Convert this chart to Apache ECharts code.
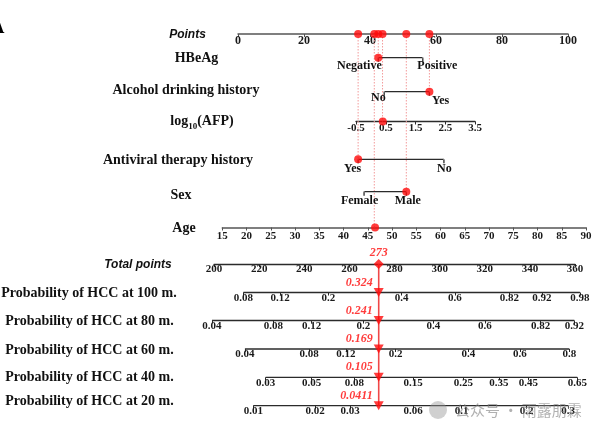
<!DOCTYPE html>
<html><head><meta charset="utf-8">
<script src="https://cdn.jsdelivr.net/npm/echarts@6/dist/echarts.min.js"></script>
<style>html,body{margin:0;padding:0;background:#fff}#c{width:607px;height:433px}</style>
</head><body><div id="c"></div>
<script>
// ================= DATA =================
const pointsTicks = [0, 20, 40, 60, 80, 100];
const hbeagLevels = ['Negative', 'Positive'];
const hbeagPoints = [42.5, 56];
const alcoholLevels = ['No', 'Yes'];
const alcoholPoints = [44.3, 58];
const afpTicks = [-0.5, 0.5, 1.5, 2.5, 3.5];
const antiviralLevels = ['Yes', 'No'];
const antiviralPoints = [36.4, 62.4];
const sexLevels = ['Female', 'Male'];
const sexPoints = [38.2, 51];
const ageTicks = [15, 20, 25, 30, 35, 40, 45, 50, 55, 60, 65, 70, 75, 80, 85, 90];
const totalTicks = [200, 220, 240, 260, 280, 300, 320, 340, 360];

// the patient shown in red
const patientHBeAg = 'Negative';
const patientAlcohol = 'Yes';
const patientAFP = 0.4;
const patientAFPPoints = 43.8;
const patientAntiviral = 'Yes';
const patientSex = 'Male';
const patientAge = 46.5;
const patientAgePoints = 41.3;
const totalScore = 273;

// probability scales: tick label and the total points it sits at
const prob100Labels = ['0.08', '0.12', '0.2', '0.4', '0.6', '0.82', '0.92', '0.98'];
const prob100Totals = [213.0, 229.3, 250.7, 283.2, 306.8, 330.9, 345.3, 362.2];
const prob80Labels = ['0.04', '0.08', '0.12', '0.2', '0.4', '0.6', '0.82', '0.92'];
const prob80Totals = [199.1, 226.3, 243.3, 266.2, 297.2, 320.1, 344.8, 359.7];
const prob60Labels = ['0.04', '0.08', '0.12', '0.2', '0.4', '0.6', '0.8'];
const prob60Totals = [213.7, 242.2, 258.5, 280.5, 312.7, 335.6, 357.5];
const prob40Labels = ['0.03', '0.05', '0.08', '0.15', '0.25', '0.35', '0.45', '0.65'];
const prob40Totals = [222.9, 243.3, 262.2, 288.3, 310.5, 326.3, 339.3, 361.0];
const prob20Labels = ['0.01', '0.02', '0.03', '0.06', '0.1', '0.2', '0.3'];
const prob20Totals = [217.4, 244.8, 260.3, 288.3, 309.8, 338.6, 357.0];
const predictedProbs = ['0.324', '0.241', '0.169', '0.105', '0.0411'];

// ================= LAYOUT / STYLE =================
const L = {
  ptsLeft: 238, ptsWidth: 330,
  afpLeft: 356, afpWidth: 119,
  ageLeft: 222.3, ageWidth: 363.7,
  totLeft: 214, totWidth: 361,
  rowY: { points: 34, hbeag: 57.7, alcohol: 91.7, afp: 121.5, antiviral: 159.3, sex: 191.7, age: 227.5,
          total: 264, p100: 292.5, p80: 320.5, p60: 349, p40: 377.3, p20: 405.7 },
  bracketTick: 4,
  levelLabels: {
    hbeag:     { align: ['right', 'left'], dx: [4, -5], dy: [8.5, 8.5] },
    alcohol:   { align: ['right', 'left'], dx: [2, 3], dy: [7, 9.5] },
    antiviral: { align: ['center', 'center'], dx: [-5, 1], dy: [10, 10] },
    sex:       { align: ['center', 'center'], dx: [-4, 2], dy: [10, 10] }
  }
};
const SERIF = '"Liberation Serif", "Times New Roman", serif';
const SANS = '"Liberation Sans", Arial, sans-serif';
const RED = '#ff0a0a';
const AXIS = '#2b2b2b';
const lab = (size, margin) => ({ show: true, fontFamily: SERIF, fontWeight: 'bold', fontSize: size, color: '#1a1a1a', margin });

const grids = [], xAxes = [], yAxes = [], series = [];
function addGrid(g, x, y) {
  grids.push(Object.assign({ outerBoundsMode: 'none', containLabel: false, show: false }, g));
  const i = grids.length - 1;
  xAxes.push(Object.assign({ gridIndex: i, type: 'value', splitLine: { show: false } }, x));
  yAxes.push(Object.assign({ gridIndex: i, type: 'value', show: false, splitLine: { show: false } }, y));
  return i;
}
function axisRowGrid(left, width, y) {
  return { left, width, top: y - 10, height: 10 };
}

// ---- top overlay grid: Points axis (on top) and categorical rows in Points units ----
const R = L.rowY;
const g0 = addGrid(
  { left: L.ptsLeft, width: L.ptsWidth, top: R.points, height: R.age - R.points },
  { position: 'top', min: pointsTicks[0], max: pointsTicks[pointsTicks.length - 1], interval: pointsTicks[1] - pointsTicks[0],
    axisLine: { show: true, lineStyle: { color: '#555', width: 1.5 } },
    axisTick: { show: true, inside: true, length: 3, lineStyle: { color: '#555' } },
    axisLabel: Object.assign(lab(12, 1), { inside: true }) },
  { min: R.points, max: R.age, inverse: true }
);

const selected = []; // {pts, y}
function catRow(key, levels, pts, chosen) {
  const y = R[key], lay = L.levelLabels[key];
  series.push({ type: 'line', xAxisIndex: g0, yAxisIndex: g0, symbol: 'none', clip: false, silent: true, z: 2,
    lineStyle: { color: AXIS, width: 1.3 },
    data: [[pts[0], y + L.bracketTick], [pts[0], y], [pts[1], y], [pts[1], y + L.bracketTick]] });
  series.push({ type: 'scatter', xAxisIndex: g0, yAxisIndex: g0, symbolSize: 1, clip: false, silent: true, z: 3,
    itemStyle: { color: '#ffffff', opacity: 1 },
    data: levels.map((lv, i) => ({ value: [pts[i], y],
      label: Object.assign(lab(12, 0), { formatter: lv, position: [lay.dx[i], lay.dy[i]], align: lay.align[i],
        verticalAlign: 'middle', textBorderWidth: 0, textShadowBlur: 0, opacity: 1, color: '#111' }) })) });
  const p = pts[levels.indexOf(chosen)];
  selected.push({ pts: p, y });
  series.push({ type: 'scatter', xAxisIndex: g0, yAxisIndex: g0, symbolSize: 8, clip: false, z: 6,
    itemStyle: { color: RED }, data: [[p, y]] });
}
catRow('hbeag', hbeagLevels, hbeagPoints, patientHBeAg);
catRow('alcohol', alcoholLevels, alcoholPoints, patientAlcohol);
catRow('antiviral', antiviralLevels, antiviralPoints, patientAntiviral);
catRow('sex', sexLevels, sexPoints, patientSex);
selected.push({ pts: patientAFPPoints, y: R.afp });
selected.push({ pts: patientAgePoints, y: R.age });

// dotted guides and dots on the Points axis
selected.forEach(s => {
  series.push({ type: 'line', xAxisIndex: g0, yAxisIndex: g0, symbol: 'none', clip: false, silent: true, z: 1,
    lineStyle: { color: '#f39a9a', width: 1, type: [1.5, 1.5] }, data: [[s.pts, R.points], [s.pts, s.y]] });
});
series.push({ type: 'scatter', xAxisIndex: g0, yAxisIndex: g0, symbolSize: 8, clip: false, z: 6,
  itemStyle: { color: RED }, data: selected.map(s => [s.pts, R.points]) });

// ---- AFP axis ----
const gA = addGrid(axisRowGrid(L.afpLeft, L.afpWidth, R.afp),
  { min: afpTicks[0], max: afpTicks[afpTicks.length - 1],
    axisLine: { show: true, lineStyle: { color: AXIS, width: 1.3 } },
    axisTick: { show: true, length: 3, customValues: afpTicks, lineStyle: { color: AXIS } },
    axisLabel: Object.assign(lab(11, 1), { customValues: afpTicks, formatter: v => v.toFixed(1) }) },
  { min: 0, max: 1 });
series.push({ type: 'scatter', xAxisIndex: gA, yAxisIndex: gA, symbolSize: 8, clip: false, z: 6,
  itemStyle: { color: RED }, data: [[patientAFP, 0]] });

// ---- Age axis ----
const gG = addGrid(axisRowGrid(L.ageLeft, L.ageWidth, R.age),
  { min: ageTicks[0], max: ageTicks[ageTicks.length - 1], interval: ageTicks[1] - ageTicks[0],
    axisLine: { show: true, lineStyle: { color: '#555', width: 1.5 } },
    axisTick: { show: true, length: 3, lineStyle: { color: '#555' } },
    axisLabel: lab(11, 3) },
  { min: 0, max: 1 });
series.push({ type: 'scatter', xAxisIndex: gG, yAxisIndex: gG, symbolSize: 8, clip: false, z: 6,
  itemStyle: { color: RED }, data: [[patientAge, 0]] });

// ---- Total points axis ----
const tMin = totalTicks[0], tMax = totalTicks[totalTicks.length - 1];
const gT = addGrid(axisRowGrid(L.totLeft, L.totWidth, R.total),
  { min: tMin, max: tMax, interval: totalTicks[1] - totalTicks[0],
    axisLine: { show: true, lineStyle: { color: AXIS, width: 1.3 } },
    axisTick: { show: true, length: 3, lineStyle: { color: AXIS } },
    axisLabel: lab(11, 0) },
  { min: 0, max: 1 });

// extended total-points scale for the probability rows
const pxPer = L.totWidth / (tMax - tMin);
const eMin = 190, eMax = 370;
const eLeft = L.totLeft - (tMin - eMin) * pxPer, eWidth = (eMax - eMin) * pxPer;

// red vertical reading line
const gV = addGrid({ left: eLeft, width: eWidth, top: R.total, height: R.p20 - R.total },
  { show: false, min: eMin, max: eMax }, { min: R.total, max: R.p20, inverse: true });
series.push({ type: 'line', xAxisIndex: gV, yAxisIndex: gV, symbol: 'none', clip: false, silent: true, z: 5,
  lineStyle: { color: '#f04848', width: 1.6 }, data: [[totalScore, R.total], [totalScore, R.p20]] });

series.push({ type: 'scatter', xAxisIndex: gT, yAxisIndex: gT, symbol: 'diamond', symbolSize: 10, clip: false, z: 7,
  itemStyle: { color: RED },
  label: { show: true, position: 'top', distance: 0, formatter: String(totalScore), color: RED,
           fontFamily: SERIF, fontWeight: 'bold', fontStyle: 'italic', fontSize: 12 },
  data: [[totalScore, 0]] });

const probRows = [
  ['p100', prob100Labels, prob100Totals],
  ['p80', prob80Labels, prob80Totals],
  ['p60', prob60Labels, prob60Totals],
  ['p40', prob40Labels, prob40Totals],
  ['p20', prob20Labels, prob20Totals]
];
probRows.forEach(([key, labels, totals], k) => {
  const gi = addGrid(axisRowGrid(eLeft, eWidth, R[key]),
    { min: eMin, max: eMax,
      axisLine: { show: false },
      axisTick: { show: true, length: 3, customValues: totals, lineStyle: { color: AXIS } },
      axisLabel: Object.assign(lab(11, 0), { customValues: totals,
        formatter: v => { let bi = 0; totals.forEach((t, i) => { if (Math.abs(t - v) < Math.abs(totals[bi] - v)) bi = i; }); return labels[bi]; } }) },
    { min: 0, max: 1 });
  series.push({ type: 'line', xAxisIndex: gi, yAxisIndex: gi, symbol: 'none', clip: false, silent: true, z: 2,
    lineStyle: { color: AXIS, width: 1.3 }, data: [[totals[0], 0], [totals[totals.length - 1], 0]] });
  series.push({ type: 'scatter', xAxisIndex: gi, yAxisIndex: gi, symbol: 'triangle', symbolRotate: 180,
    symbolSize: [10, 9], clip: false, z: 7, itemStyle: { color: RED },
    label: { show: true, position: 'left', distance: 1, offset: [0, -10], formatter: predictedProbs[k], color: RED,
             fontFamily: SERIF, fontWeight: 'bold', fontStyle: 'italic', fontSize: 12 },
    data: [[totalScore, 0]] });
});

// ---- titles (text) ----
const titleFont = 'bold 14px ' + SERIF;
const sansItalic = 'italic bold 12px ' + SANS;
const titles = [
  ['Points', 187.5, 35, sansItalic],
  ['HBeAg', 196.5, 58, titleFont],
  ['Alcohol drinking history', 186, 90.5, titleFont],
  ['Antiviral therapy history', 178, 160, titleFont],
  ['Sex', 181, 195, titleFont],
  ['Age', 184, 228, titleFont],
  ['Total points', 138, 264.5, sansItalic],
  ['Probability of HCC at 100 m.', 89, 293, titleFont],
  ['Probability of HCC at 80 m.', 89.5, 321, titleFont],
  ['Probability of HCC at 60 m.', 89.5, 350, titleFont],
  ['Probability of HCC at 40 m.', 89.5, 377.5, titleFont],
  ['Probability of HCC at 20 m.', 89.5, 401.5, titleFont]
];
const graphics = titles.map(([t, x, y, f]) => ({ type: 'text', x, y, silent: true,
  style: { text: t, font: f, fill: '#111', align: 'center', verticalAlign: 'middle' } }));
graphics.push({ type: 'text', x: 202, y: 120, silent: true,
  style: { text: '{a|log}{b|10}{a|(AFP)}', align: 'center', verticalAlign: 'middle', fill: '#111',
    rich: { a: { fontFamily: SERIF, fontWeight: 'bold', fontSize: 14, fill: '#111', lineHeight: 16, verticalAlign: 'bottom' },
            b: { fontFamily: SERIF, fontWeight: 'bold', fontSize: 9, fill: '#111', lineHeight: 12, verticalAlign: 'bottom', padding: [0, 0, -3, 0] } } } });
graphics.push({ type: 'text', x: -10, y: 28, silent: true,
  style: { text: 'A', font: 'bold 20px ' + SERIF, fill: '#000', verticalAlign: 'middle' } });
// watermark
graphics.push({ type: 'circle', shape: { cx: 438, cy: 410, r: 9 }, silent: true, z: 50,
  style: { fill: 'rgba(150,150,150,0.45)' } });
graphics.push({ type: 'text', x: 455, y: 410, silent: true, z: 50,
  style: { text: '公众号 · 雨露朋霖', font: '15px "Noto Sans CJK SC"', fill: 'rgba(125,125,125,0.6)', verticalAlign: 'middle' } });

const chart = echarts.init(document.getElementById('c'));
chart.setOption({ animation: false, backgroundColor: '#fff', grid: grids, xAxis: xAxes, yAxis: yAxes, series, graphic: graphics });
</script>
</body></html>
